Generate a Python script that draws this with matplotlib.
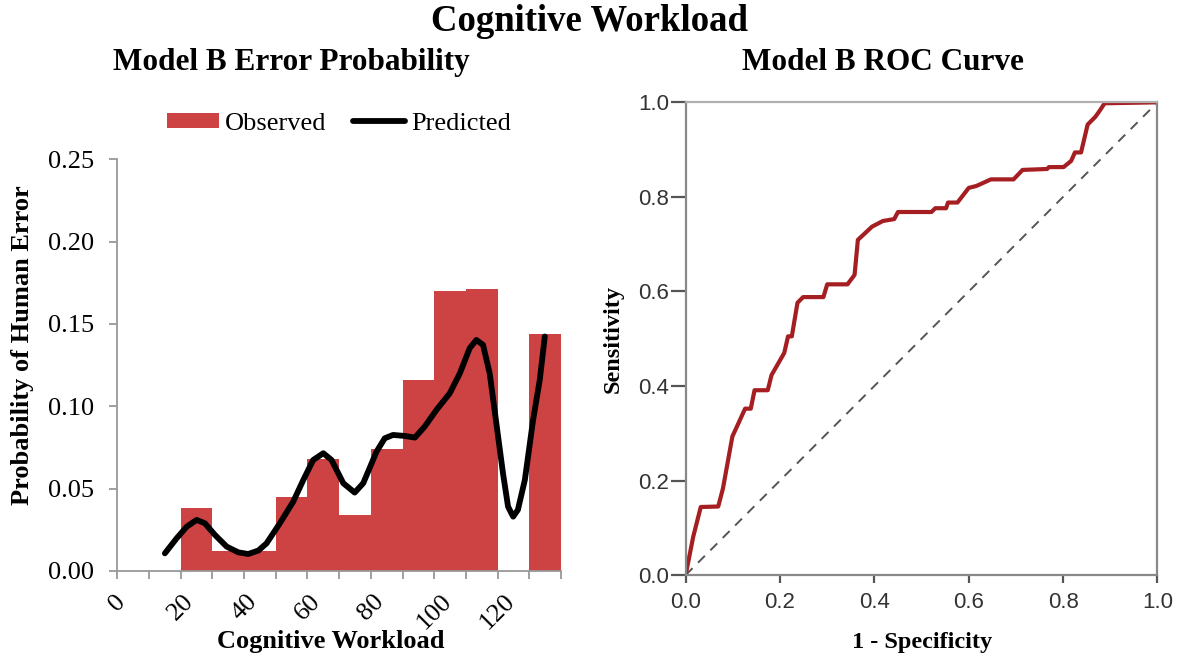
import numpy as np
import matplotlib
matplotlib.use("Agg")
import matplotlib.pyplot as plt

plt.rcParams['font.family'] = ['Liberation Serif', 'DejaVu Serif']

# observed error probability per 10-unit workload bin
bin_left = [20, 30, 40, 50, 60, 70, 80, 90, 100, 110, 120, 130]
observed = [0.038, 0.012, 0.012, 0.045, 0.068, 0.034, 0.074, 0.116, 0.170, 0.171, 0.0, 0.144]

# predicted curve
pred_x = [15.0, 18.7, 21.9, 25.0, 27.6, 30.8, 34.5, 38.2, 41.3, 44.5, 47.1, 51.3,
          55.5, 58.7, 61.8, 65.0, 67.6, 71.3, 74.9, 77.6, 81.8, 84.4, 87.0, 90.7,
          93.9, 97.0, 100.7, 104.9, 108.1, 111.2, 113.3, 115.4, 117.5, 119.6,
          121.7, 123.3, 124.9, 126.4, 128.6, 131.2, 133.3, 134.9]
pred_y = [0.0107, 0.0198, 0.0269, 0.0310, 0.0290, 0.0219, 0.0148, 0.0113, 0.0103,
          0.0124, 0.0168, 0.0290, 0.0421, 0.0553, 0.0674, 0.0715, 0.0674, 0.0533,
          0.0476, 0.0533, 0.0725, 0.0806, 0.0826, 0.0820, 0.0810, 0.0877, 0.0978,
          0.1079, 0.1201, 0.1353, 0.1403, 0.1373, 0.1201, 0.0897, 0.0593, 0.0391,
          0.0330, 0.0371, 0.0553, 0.0917, 0.1160, 0.1424]

# ROC curve
fpr = [0.0, 0.016, 0.032, 0.069, 0.079, 0.099, 0.126, 0.138, 0.146, 0.174, 0.182,
       0.209, 0.217, 0.225, 0.237, 0.249, 0.292, 0.300, 0.343, 0.358, 0.365, 0.395,
       0.418, 0.442, 0.450, 0.521, 0.529, 0.552, 0.556, 0.576, 0.600, 0.616, 0.647,
       0.695, 0.714, 0.766, 0.770, 0.801, 0.817, 0.825, 0.838, 0.852, 0.868, 0.876,
       0.888, 1.0]
tpr = [0.0, 0.081, 0.144, 0.145, 0.183, 0.293, 0.352, 0.352, 0.391, 0.391, 0.423,
       0.470, 0.505, 0.505, 0.576, 0.588, 0.588, 0.615, 0.615, 0.635, 0.709, 0.737,
       0.749, 0.753, 0.768, 0.768, 0.776, 0.776, 0.788, 0.788, 0.819, 0.823, 0.837,
       0.837, 0.857, 0.859, 0.863, 0.863, 0.876, 0.894, 0.894, 0.953, 0.969, 0.980,
       0.998, 1.0]

x_ticks = list(range(0, 150, 10))
x_labels = [str(t) if t % 20 == 0 and t <= 120 else '' for t in x_ticks]
y_ticks = [0.0, 0.05, 0.10, 0.15, 0.20, 0.25]
roc_ticks = [0.0, 0.2, 0.4, 0.6, 0.8, 1.0]

fig = plt.figure(figsize=(11.84, 6.61), dpi=100)

# ---- left: error probability
ax1 = fig.add_axes([0.0991, 0.1362, 0.3747, 0.6228])
bars = ax1.bar(bin_left, observed, width=10, align='edge', color='#CD4242',
               linewidth=0, label='Observed')
line, = ax1.plot(pred_x, pred_y, color='black', lw=4.2, solid_capstyle='round',
                 solid_joinstyle='round', label='Predicted')
ax1.set_xlim(0, 140)
ax1.set_ylim(0, 0.25)
ax1.set_xticks(x_ticks)
ax1.set_xticklabels(x_labels, rotation=45, ha='center', fontsize=19)
ax1.set_yticks(y_ticks)
ax1.set_yticklabels([f'{v:.2f}' for v in y_ticks], fontsize=19)
for s in ['top', 'right']:
    ax1.spines[s].set_visible(False)
for s in ['left', 'bottom']:
    ax1.spines[s].set_color('#999999')
    ax1.spines[s].set_linewidth(1.3)
ax1.tick_params(axis='both', colors='#999999', labelcolor='black', length=6, width=1.3)
ax1.tick_params(axis='y', pad=11)
ax1.tick_params(axis='x', pad=8)
ax1.set_xlabel('Cognitive Workload', fontsize=19, fontweight='bold')
ax1.xaxis.set_label_coords(0.4816, -0.1725)
ax1.xaxis.label.set_va('center')
fig.text(0.0186, 0.478, 'Probability of Human Error', rotation=90, fontsize=19,
         fontweight='bold', ha='center', va='center')
ax1.legend([bars, line], ['Observed', 'Predicted'], loc='center',
           bbox_to_anchor=(0.5, 1.086), ncol=2, frameon=False,
           fontsize=19, handlelength=1.95, handleheight=0.5, handletextpad=0.25,
           columnspacing=1.0, borderpad=0)

# ---- right: ROC
ax2 = fig.add_axes([0.5791, 0.1300, 0.3985, 0.7152])
ax2.plot([0, 1], [0, 1], color='#555555', lw=1.4, dashes=(5, 4))
ax2.plot(fpr, tpr, color='#A51E22', lw=3.0, solid_joinstyle='round')
ax2.set_xlim(0, 1)
ax2.set_ylim(0, 1)
ax2.set_xticks(roc_ticks)
ax2.set_yticks(roc_ticks)
ax2.set_xticklabels([f'{v:.1f}' for v in roc_ticks])
ax2.set_yticklabels([f'{v:.1f}' for v in roc_ticks])
for lab in ax2.get_xticklabels() + ax2.get_yticklabels():
    lab.set_family(['Liberation Sans', 'DejaVu Sans'])
    lab.set_fontsize(16)
    lab.set_color('#333333')
for s in ax2.spines.values():
    s.set_color('#888888')
    s.set_linewidth(1.6)
ax2.spines['top'].set_color('#b0b0b0')
ax2.tick_params(axis='both', colors='#555555', labelcolor='#333333', length=11, width=1.6)
ax2.tick_params(axis='y', pad=1)
ax2.tick_params(axis='x', length=6, pad=6)
ax2.set_xlabel('1 - Specificity', fontsize=17.5, fontweight='bold', labelpad=14)
ax2.set_ylabel('Sensitivity', fontsize=17.5, fontweight='bold', labelpad=10)

fig.text(0.2458, 0.905, 'Model B Error Probability', fontsize=22.5, fontweight='bold',
         ha='center', va='center')
fig.text(0.7458, 0.905, 'Model B ROC Curve', fontsize=22.5, fontweight='bold',
         ha='center', va='center')
fig.text(0.4983, 0.968, 'Cognitive Workload', fontsize=26.5, fontweight='bold',
         ha='center', va='center')

fig.savefig('out.png', dpi=100)
